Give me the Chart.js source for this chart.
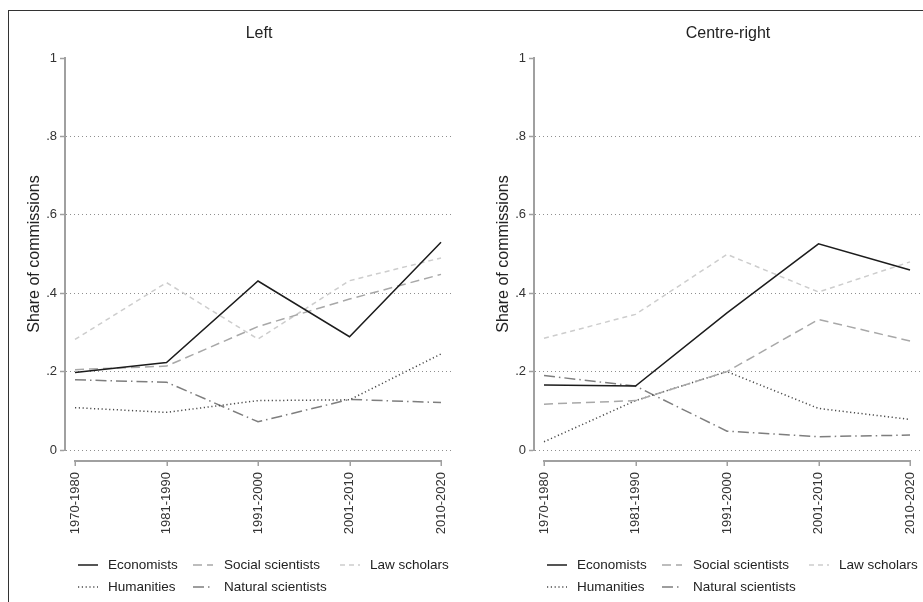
<!DOCTYPE html>
<html><head><meta charset="utf-8">
<script src="https://cdn.jsdelivr.net/npm/chart.js@4"></script>
<style>
html,body{margin:0;padding:0;background:#fff;overflow:hidden;width:923px;height:602px;position:relative;}
#frame{position:absolute;left:8px;top:10px;width:1000px;height:1000px;border-left:1.5px solid #333;border-top:1.5px solid #333;}
.panel{position:absolute;top:0;width:470px;height:602px;}
</style></head><body>
<div id="frame"></div>
<div class="panel" style="left:0"><canvas id="c1" width="470" height="602"></canvas></div>
<div class="panel" style="left:469px"><canvas id="c2" width="470" height="602"></canvas></div>
<script>
// ---- data ----
const periods = ['1970-1980','1981-1990','1991-2000','2001-2010','2010-2020'];
const yTickValues = [0, 0.2, 0.4, 0.6, 0.8, 1];
const yTickLabels = ['0', '.2', '.4', '.6', '.8', '1'];
const seriesNames = ['Economists','Social scientists','Law scholars','Humanities','Natural scientists'];
const panelTitles = ['Left', 'Centre-right'];
const yAxisTitle = 'Share of commissions';

const leftEconomists        = [0.198, 0.223, 0.431, 0.289, 0.530];
const leftSocialScientists  = [0.205, 0.214, 0.315, 0.385, 0.448];
const leftLawScholars       = [0.282, 0.427, 0.283, 0.432, 0.490];
const leftHumanities        = [0.108, 0.096, 0.126, 0.128, 0.245];
const leftNaturalScientists = [0.179, 0.173, 0.072, 0.129, 0.121];

const rightEconomists        = [0.166, 0.163, 0.350, 0.526, 0.459];
const rightSocialScientists  = [0.117, 0.126, 0.200, 0.333, 0.278];
const rightLawScholars       = [0.285, 0.346, 0.499, 0.403, 0.480];
const rightHumanities        = [0.021, 0.126, 0.200, 0.106, 0.078];
const rightNaturalScientists = [0.190, 0.163, 0.048, 0.034, 0.038];

// ---- styles ----
const FONT = '"Liberation Sans", Arial, Helvetica, sans-serif';
const seriesStyles = [
  {color:'#1c1c1c', dash:[], width:1.5},
  {color:'#a8a8a8', dash:[9,5], width:1.5},
  {color:'#cdcdcd', dash:[5,4], width:1.5},
  {color:'#4a4a4a', dash:[1.2,2.6], width:1.5},
  {color:'#7e7e7e', dash:[11,4,1.5,4], width:1.5}
];

function toPoints(arr){ return arr.map((v,i)=>({x:i, y:v})); }

const decorPlugin = {
  id: 'decor',
  afterDraw(chart, args, opts){
    const ctx = chart.ctx, ca = chart.chartArea, xs = chart.scales.x;
    ctx.save();
    // x axis line (detached below plot)
    const yAx = ca.bottom + 11;
    const x0 = xs.getPixelForValue(0), x1 = xs.getPixelForValue(periods.length-1);
    ctx.strokeStyle = '#a0a0a0'; ctx.lineWidth = 2; ctx.setLineDash([]);
    ctx.beginPath(); ctx.moveTo(x0-1, yAx); ctx.lineTo(x1+1, yAx); ctx.stroke();
    ctx.lineWidth = 1.5;
    for (let i=0;i<periods.length;i++){
      const px = Math.round(xs.getPixelForValue(i)) + 0.25;
      ctx.beginPath(); ctx.moveTo(px, yAx); ctx.lineTo(px, yAx+5); ctx.stroke();
    }
    // panel title
    ctx.fillStyle = '#222';
    ctx.font = '16px ' + FONT;
    ctx.textAlign = 'center'; ctx.textBaseline = 'middle';
    ctx.fillText(opts.title, (ca.left+ca.right)/2, 34);
    // legend
    const colSample = [78, 193, 340], colText = [108, 224, 370], rowY = [565, 587];
    ctx.font = '13.5px ' + FONT;
    ctx.textAlign = 'left';
    chart.data.datasets.forEach((ds, i) => {
      const r = i < 3 ? 0 : 1, c = i % 3;
      const y = rowY[r];
      ctx.strokeStyle = ds.borderColor; ctx.lineWidth = ds.borderWidth;
      ctx.setLineDash(ds.borderDash);
      ctx.beginPath(); ctx.moveTo(colSample[c], y); ctx.lineTo(colSample[c]+20, y); ctx.stroke();
      ctx.setLineDash([]);
      ctx.fillStyle = '#222';
      ctx.fillText(ds.label, colText[c], y);
    });
    ctx.restore();
  }
};

function makeChart(id, title, series){
  const datasets = series.map((arr, i) => ({
    label: seriesNames[i],
    data: toPoints(arr),
    borderColor: seriesStyles[i].color,
    borderDash: seriesStyles[i].dash,
    borderWidth: seriesStyles[i].width,
    borderCapStyle: 'butt',
    pointRadius: 0,
    fill: false,
    tension: 0
  }));
  return new Chart(document.getElementById(id), {
    type: 'line',
    data: { datasets },
    plugins: [decorPlugin],
    options: {
      responsive: false,
      animation: false,
      devicePixelRatio: 1,
      layout: { padding: { top: 58, bottom: 62, left: 0, right: 17 } },
      plugins: {
        legend: { display: false },
        tooltip: { enabled: false },
        decor: { title }
      },
      scales: {
        x: {
          type: 'linear',
          min: -0.1093, max: 4.131,
          afterBuildTicks: s => { s.ticks = periods.map((p,i)=>({value:i})); },
          afterFit: s => { s.height = 90; s.paddingLeft = 0; s.paddingRight = 0; },
          grid: { display: false, drawTicks: false },
          border: { display: false },
          ticks: {
            autoSkip: false, minRotation: 90, maxRotation: 90, padding: 22,
            color: '#333', font: { size: 13, family: FONT },
            callback: v => periods[v]
          }
        },
        y: {
          min: 0, max: 1,
          afterBuildTicks: s => { s.ticks = yTickValues.map(v=>({value:v})); },
          afterFit: s => { s.width = 65; },
          grid: {
            color: c => (c.tick && c.tick.value === 1) ? 'rgba(0,0,0,0)' : '#8f8f8f',
            lineWidth: 1,
            tickColor: '#a0a0a0', tickLength: 5, tickWidth: 1.5, tickBorderDash: []
          },
          border: { display: true, color: '#a0a0a0', width: 2, dash: [1, 3] },
          ticks: {
            padding: 3, color: '#333', font: { size: 13, family: FONT },
            callback: (v, i) => yTickLabels[i]
          },
          title: {
            display: true, text: yAxisTitle, color: '#222',
            font: { size: 16, family: FONT }, padding: { top: 25, bottom: 0 }
          }
        }
      }
    }
  });
}

makeChart('c1', panelTitles[0], [leftEconomists, leftSocialScientists, leftLawScholars, leftHumanities, leftNaturalScientists]);
makeChart('c2', panelTitles[1], [rightEconomists, rightSocialScientists, rightLawScholars, rightHumanities, rightNaturalScientists]);
</script>
</body></html>
